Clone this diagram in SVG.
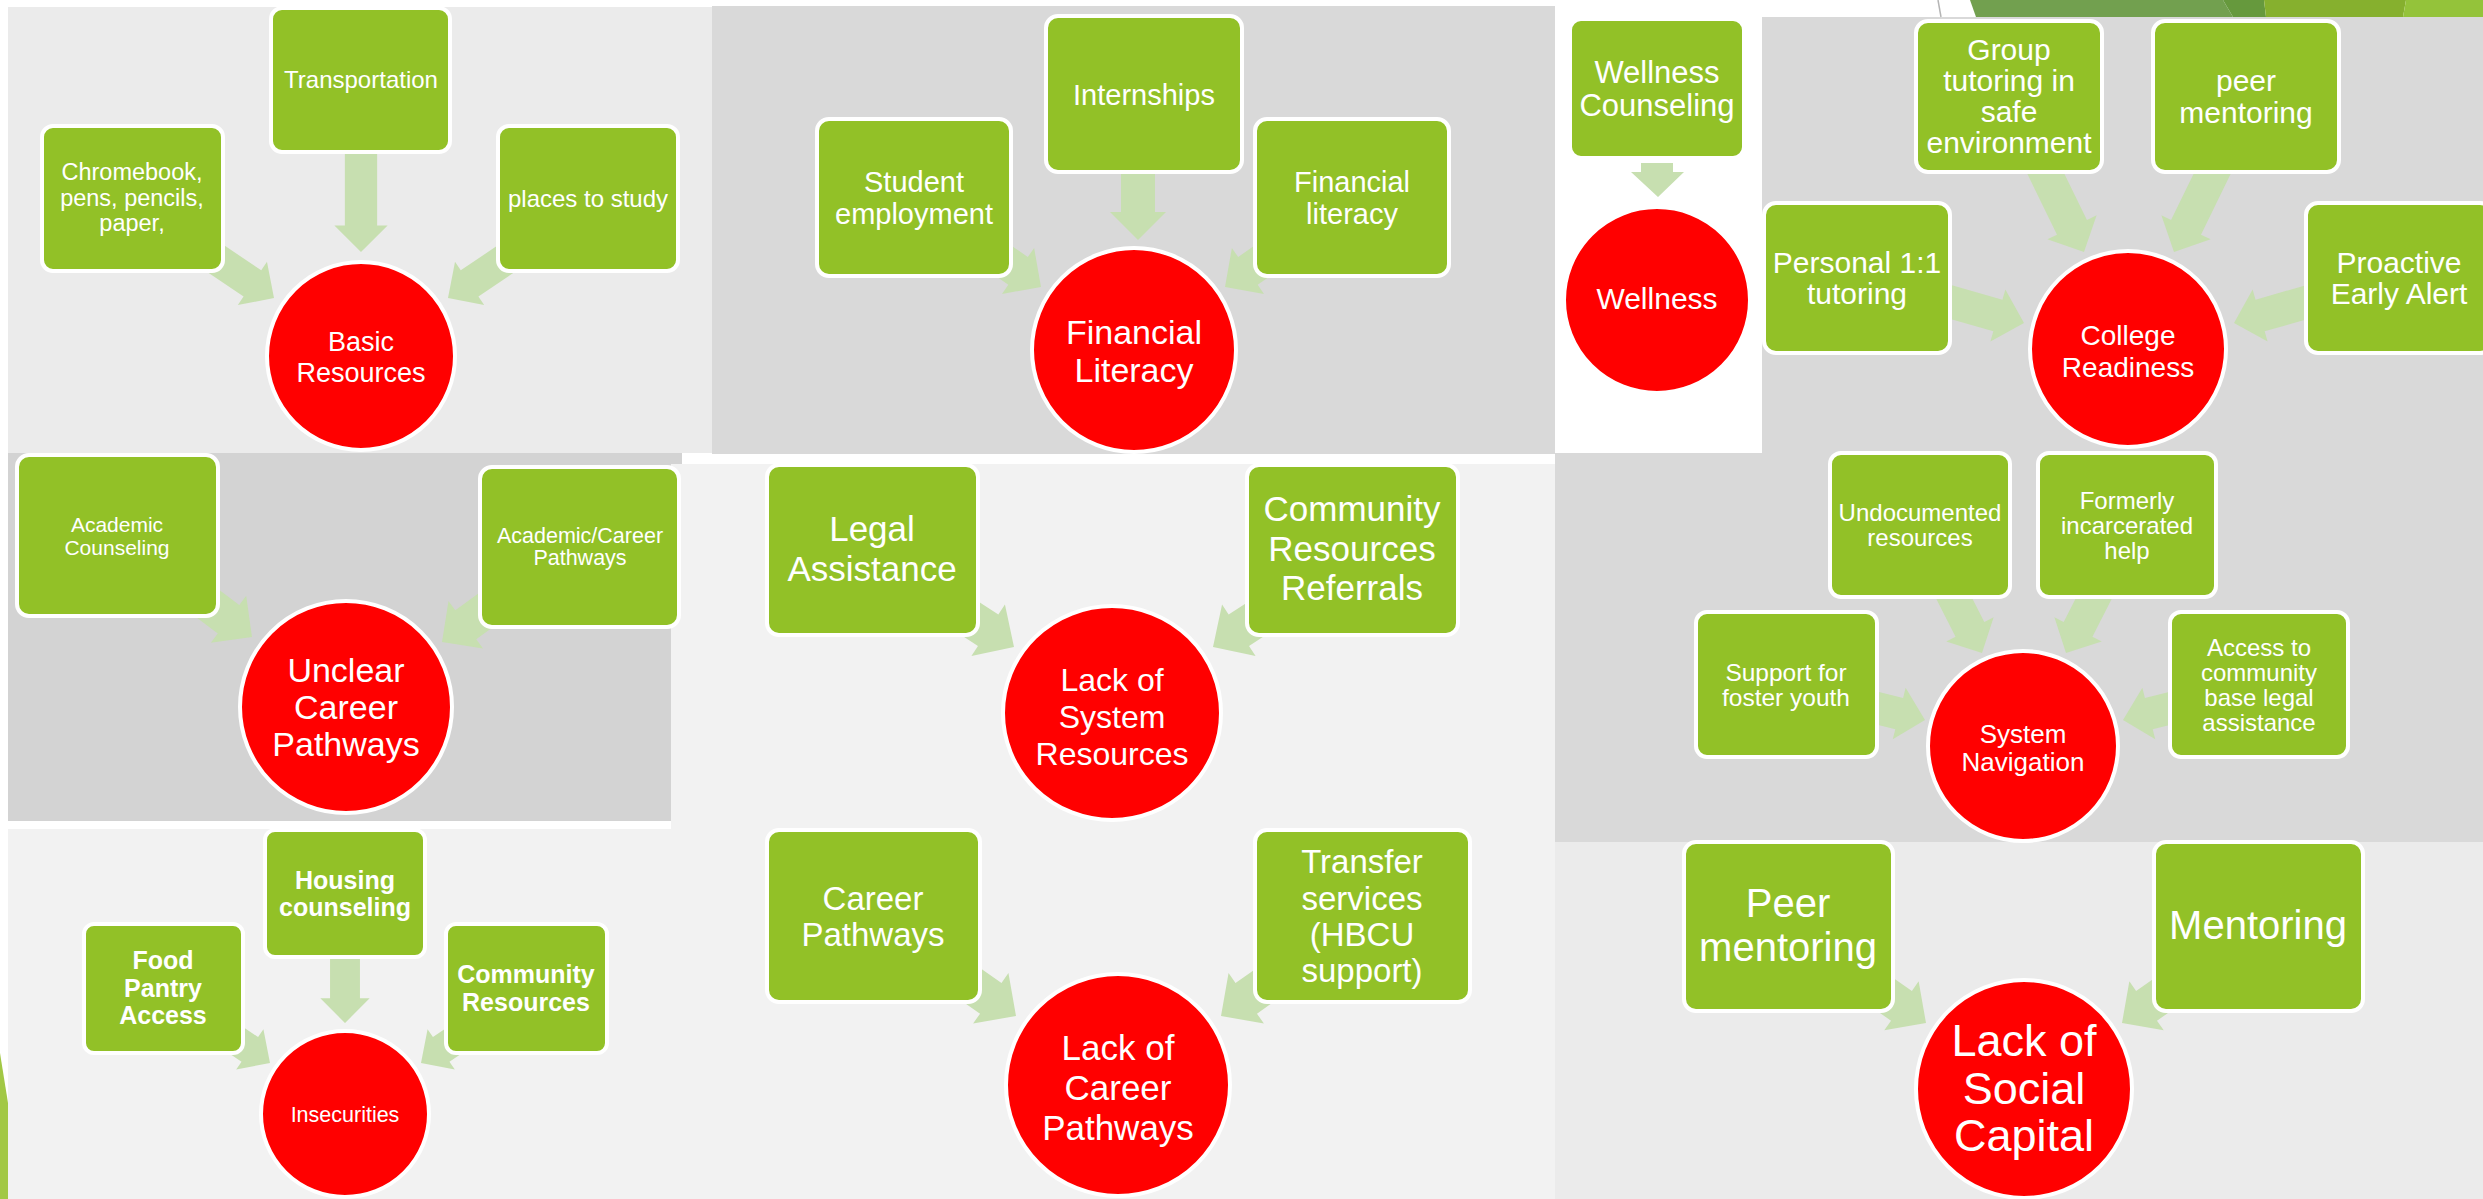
<svg xmlns="http://www.w3.org/2000/svg" xmlns:xlink="http://www.w3.org/1999/xlink" width="2483" height="1199" viewBox="0 0 2483 1199">
<style>
.box{fill:#92C127;stroke:#FFFFFF;stroke-width:4}
.circ{fill:#FF0000;stroke:#FFFFFF;stroke-width:4}
.arr{fill:#C7DFB0}
text{font-family:"Liberation Sans",Arial,sans-serif;fill:#FFFFFF;text-anchor:middle;dominant-baseline:central}
.b{font-weight:bold}
</style>
<defs>
<polygon id="arrow" points="0,0 -28,28 -28,17 -140,17 -140,-17 -28,-17 -28,-28"/>
</defs>
<rect width="2483" height="1199" fill="#FFFFFF"/>
<g id="panels">
<rect x="8" y="7" width="704" height="446" fill="#EBEBEB"/>
<rect x="712" y="6" width="843" height="448" fill="#D9D9D9"/>
<rect x="1762" y="17" width="721" height="436" fill="#D9D9D9"/>
<rect x="1555" y="453" width="928" height="389" fill="#D9D9D9"/>
<rect x="8" y="453" width="674" height="368" fill="#D3D3D3"/>
<rect x="671" y="464" width="884" height="735" fill="#F2F2F2"/>
<rect x="8" y="829" width="674" height="370" fill="#F2F2F2"/>
<rect x="1555" y="842" width="928" height="357" fill="#EBEBEB"/>
</g>
<g id="decoration">
<line x1="1938" y1="0" x2="1941" y2="17" stroke="#B5B5B5" stroke-width="1.5"/>
<polygon points="1970,0 2223,0 2233,17 1976,17" fill="#72A04F"/>
<polygon points="2223,0 2264,0 2266,17 2233,17" fill="#66993D"/>
<polygon points="2264,0 2406,0 2403,17 2266,17" fill="#86B02E"/>
<polygon points="2406,0 2483,0 2483,17 2403,17" fill="#94C33A"/>
<polygon points="0,1053 8,1103 8,1199 0,1199" fill="#A2C845"/>
</g>
<g id="connectors" class="arr">
<use xlink:href="#arrow" transform="translate(361,252) rotate(90) scale(0.95)"/>
<use xlink:href="#arrow" transform="translate(274,298) rotate(34) scale(0.93)"/>
<use xlink:href="#arrow" transform="translate(448,298) rotate(146) scale(0.93)"/>
<use xlink:href="#arrow" transform="translate(1138,240) rotate(90) scale(1)"/>
<use xlink:href="#arrow" transform="translate(1041,287) rotate(35) scale(1)"/>
<use xlink:href="#arrow" transform="translate(1225,287) rotate(145) scale(1)"/>
<polygon points="1641,163 1673,163 1673,172 1684,172 1658,197 1631,172 1641,172"/>
<use xlink:href="#arrow" transform="translate(2084,252) rotate(64) scale(0.98)"/>
<use xlink:href="#arrow" transform="translate(2174,252) rotate(116) scale(0.98)"/>
<use xlink:href="#arrow" transform="translate(2024,323) rotate(16) scale(0.97)"/>
<use xlink:href="#arrow" transform="translate(2234,323) rotate(164) scale(0.97)"/>
<use xlink:href="#arrow" transform="translate(252,637) rotate(37) scale(1.05)"/>
<use xlink:href="#arrow" transform="translate(442,642) rotate(144) scale(1.05)"/>
<use xlink:href="#arrow" transform="translate(1014,647) rotate(33) scale(1.1)"/>
<use xlink:href="#arrow" transform="translate(1213,647) rotate(147) scale(1.1)"/>
<use xlink:href="#arrow" transform="translate(1982,653) rotate(63) scale(0.95)"/>
<use xlink:href="#arrow" transform="translate(2066,653) rotate(117) scale(0.95)"/>
<use xlink:href="#arrow" transform="translate(1925,720) rotate(14) scale(0.95)"/>
<use xlink:href="#arrow" transform="translate(2123,720) rotate(166) scale(0.95)"/>
<use xlink:href="#arrow" transform="translate(345,1023) rotate(90) scale(0.88)"/>
<use xlink:href="#arrow" transform="translate(270,1063) rotate(34) scale(0.87)"/>
<use xlink:href="#arrow" transform="translate(421,1063) rotate(146) scale(0.87)"/>
<use xlink:href="#arrow" transform="translate(1016,1016) rotate(35) scale(1.1)"/>
<use xlink:href="#arrow" transform="translate(1221,1016) rotate(145) scale(1.1)"/>
<use xlink:href="#arrow" transform="translate(1926,1023) rotate(35) scale(1.07)"/>
<use xlink:href="#arrow" transform="translate(2122,1023) rotate(145) scale(1.07)"/>
</g>
<g id="n_transportation"><rect class="box" x="271" y="8" width="179" height="144" rx="11"/><text x="361" y="79" font-size="24">Transportation</text></g>
<g id="n_chromebook"><rect class="box" x="42" y="126" width="181" height="145" rx="11"/><text x="132" y="172" font-size="23.5">Chromebook,</text><text x="132" y="198" font-size="23.5">pens, pencils,</text><text x="132" y="223" font-size="23.5">paper,</text></g>
<g id="n_places"><rect class="box" x="498" y="126" width="180" height="145" rx="11"/><text x="588" y="198" font-size="24">places to study</text></g>
<g id="c_basic"><circle class="circ" cx="361" cy="356" r="94"/><text x="361" y="342" font-size="27">Basic</text><text x="361" y="373" font-size="27">Resources</text></g>
<g id="n_internships"><rect class="box" x="1046" y="16" width="196" height="156" rx="12"/><text x="1144" y="95" font-size="29">Internships</text></g>
<g id="n_student"><rect class="box" x="817" y="119" width="194" height="157" rx="12"/><text x="914" y="182" font-size="29">Student</text><text x="914" y="214" font-size="29">employment</text></g>
<g id="n_finlit"><rect class="box" x="1255" y="119" width="194" height="157" rx="12"/><text x="1352" y="182" font-size="29">Financial</text><text x="1352" y="214" font-size="29">literacy</text></g>
<g id="c_financial"><circle class="circ" cx="1134" cy="350" r="102"/><text x="1134" y="332" font-size="34">Financial</text><text x="1134" y="370" font-size="34">Literacy</text></g>
<g id="n_wcounsel"><rect class="box" x="1570" y="19" width="174" height="139" rx="11"/><text x="1657" y="72" font-size="31">Wellness</text><text x="1657" y="105" font-size="31">Counseling</text></g>
<g id="c_wellness"><circle class="circ" cx="1657" cy="300" r="93"/><text x="1657" y="298" font-size="30">Wellness</text></g>
<g id="n_group"><rect class="box" x="1916" y="21" width="186" height="151" rx="12"/><text x="2009" y="49" font-size="30">Group</text><text x="2009" y="80" font-size="30">tutoring in</text><text x="2009" y="111" font-size="30">safe</text><text x="2009" y="142" font-size="30">environment</text></g>
<g id="n_peer"><rect class="box" x="2153" y="21" width="186" height="151" rx="12"/><text x="2246" y="80" font-size="30">peer</text><text x="2246" y="112" font-size="30">mentoring</text></g>
<g id="n_personal"><rect class="box" x="1764" y="203" width="186" height="150" rx="12"/><text x="1857" y="262" font-size="30">Personal 1:1</text><text x="1857" y="293" font-size="30">tutoring</text></g>
<g id="n_proactive"><rect class="box" x="2306" y="203" width="186" height="150" rx="12"/><text x="2399" y="262" font-size="30">Proactive</text><text x="2399" y="293" font-size="30">Early Alert</text></g>
<g id="c_college"><circle class="circ" cx="2128" cy="349" r="98"/><text x="2128" y="335" font-size="28">College</text><text x="2128" y="367" font-size="28">Readiness</text></g>
<g id="n_acadcoun"><rect class="box" x="17" y="455" width="201" height="161" rx="12"/><text x="117" y="524" font-size="21">Academic</text><text x="117" y="547" font-size="21">Counseling</text></g>
<g id="n_acadcareer"><rect class="box" x="480" y="467" width="199" height="160" rx="12"/><text x="580" y="536" font-size="21.5">Academic/Career</text><text x="580" y="558" font-size="21.5">Pathways</text></g>
<g id="c_unclear"><circle class="circ" cx="346" cy="707" r="106"/><text x="346" y="670" font-size="34">Unclear</text><text x="346" y="707" font-size="34">Career</text><text x="346" y="744" font-size="34">Pathways</text></g>
<g id="n_legal"><rect class="box" x="767" y="465" width="211" height="170" rx="12"/><text x="872" y="528" font-size="35">Legal</text><text x="872" y="568" font-size="35">Assistance</text></g>
<g id="n_commref"><rect class="box" x="1247" y="465" width="211" height="170" rx="12"/><text x="1352" y="508" font-size="35">Community</text><text x="1352" y="548" font-size="35">Resources</text><text x="1352" y="587" font-size="35">Referrals</text></g>
<g id="c_sysres"><ellipse class="circ" cx="1112" cy="713" rx="109" ry="107"/><text x="1112" y="680" font-size="32">Lack of</text><text x="1112" y="717" font-size="32">System</text><text x="1112" y="754" font-size="32">Resources</text></g>
<g id="n_undoc"><rect class="box" x="1830" y="453" width="180" height="144" rx="11"/><text x="1920" y="512" font-size="24">Undocumented</text><text x="1920" y="537" font-size="24">resources</text></g>
<g id="n_formerly"><rect class="box" x="2038" y="453" width="178" height="144" rx="11"/><text x="2127" y="500" font-size="24">Formerly</text><text x="2127" y="525" font-size="24">incarcerated</text><text x="2127" y="550" font-size="24">help</text></g>
<g id="n_foster"><rect class="box" x="1696" y="612" width="181" height="145" rx="11"/><text x="1786" y="672" font-size="24.5">Support for</text><text x="1786" y="697" font-size="24.5">foster youth</text></g>
<g id="n_access"><rect class="box" x="2170" y="612" width="178" height="145" rx="11"/><text x="2259" y="647" font-size="24">Access to</text><text x="2259" y="672" font-size="24">community</text><text x="2259" y="697" font-size="24">base legal</text><text x="2259" y="722" font-size="24">assistance</text></g>
<g id="c_sysnav"><circle class="circ" cx="2023" cy="746" r="95"/><text x="2023" y="734" font-size="26">System</text><text x="2023" y="762" font-size="26">Navigation</text></g>
<g id="n_housing"><rect class="box" x="265" y="830" width="160" height="127" rx="10"/><text class="b" x="345" y="880" font-size="25">Housing</text><text class="b" x="345" y="907" font-size="25">counseling</text></g>
<g id="n_food"><rect class="box" x="84" y="924" width="159" height="129" rx="10"/><text class="b" x="163" y="960" font-size="25">Food</text><text class="b" x="163" y="988" font-size="25">Pantry</text><text class="b" x="163" y="1015" font-size="25">Access</text></g>
<g id="n_commres"><rect class="box" x="446" y="924" width="161" height="129" rx="10"/><text class="b" x="526" y="974" font-size="25">Community</text><text class="b" x="526" y="1002" font-size="25">Resources</text></g>
<g id="c_insec"><ellipse class="circ" cx="345" cy="1114" rx="84" ry="83"/><text x="345" y="1115" font-size="21.5">Insecurities</text></g>
<g id="n_careerpath"><rect class="box" x="767" y="830" width="213" height="172" rx="12"/><text x="873" y="898" font-size="33">Career</text><text x="873" y="934" font-size="33">Pathways</text></g>
<g id="n_transfer"><rect class="box" x="1255" y="830" width="215" height="172" rx="12"/><text x="1362" y="861" font-size="33">Transfer</text><text x="1362" y="898" font-size="33">services</text><text x="1362" y="934" font-size="33">(HBCU</text><text x="1362" y="970" font-size="33">support)</text></g>
<g id="c_lackcareer"><ellipse class="circ" cx="1118" cy="1085" rx="112" ry="111"/><text x="1118" y="1047" font-size="35">Lack of</text><text x="1118" y="1087" font-size="35">Career</text><text x="1118" y="1127" font-size="35">Pathways</text></g>
<g id="n_peermentor"><rect class="box" x="1684" y="842" width="209" height="169" rx="12"/><text x="1788" y="903" font-size="40">Peer</text><text x="1788" y="947" font-size="40">mentoring</text></g>
<g id="n_mentoring"><rect class="box" x="2154" y="842" width="209" height="169" rx="12"/><text x="2258" y="925" font-size="40">Mentoring</text></g>
<g id="c_social"><ellipse class="circ" cx="2024" cy="1089" rx="108" ry="109"/><text x="2024" y="1040" font-size="45">Lack of</text><text x="2024" y="1088" font-size="45">Social</text><text x="2024" y="1135" font-size="45">Capital</text></g>
</svg>
